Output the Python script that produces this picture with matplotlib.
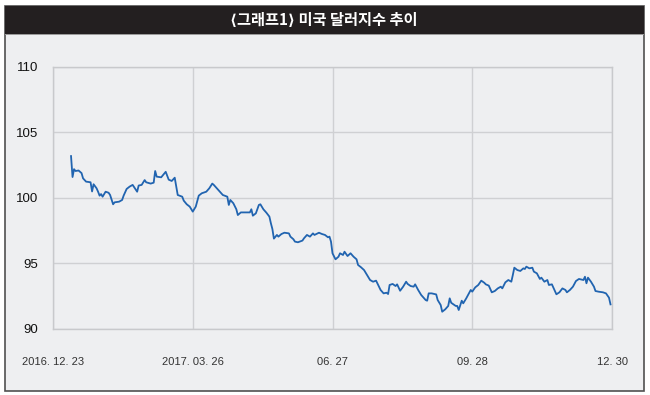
import numpy as np
import pandas as pd
import matplotlib
matplotlib.use("Agg")
import matplotlib.pyplot as plt
from matplotlib.patches import Rectangle

# days after 2016-12-23 and the dollar index
START_DATE = "2016-12-23"
day_offsets = [
    12, 13, 14, 15, 17, 18, 19, 20, 22, 25, 26, 27, 29, 30, 31, 32, 33, 35, 37, 38,
    40, 41, 44, 46, 47, 49, 51, 53, 56, 57, 59, 61, 62, 65, 67, 68, 69, 72, 75, 77,
    79, 81, 82, 83, 86, 87, 89, 91, 93, 95, 97, 99, 102, 104, 106, 107, 109, 111, 113, 116,
    117, 118, 120, 122, 123, 125, 128, 131, 132, 133, 135, 137, 138, 140, 142, 144, 145, 146, 147, 149,
    150, 152, 154, 157, 158, 160, 161, 163, 166, 167, 169, 171, 173, 174, 177, 179, 181, 183, 184, 185,
    186, 188, 190, 191, 193, 194, 196, 198, 200, 202, 203, 205, 207, 209, 211, 213, 215, 218, 220, 222,
    223, 224, 226, 228, 229, 231, 233, 235, 236, 238, 240, 241, 243, 245, 248, 249, 250, 252, 255, 256,
    258, 259, 261, 263, 264, 265, 268, 269, 270, 272, 273, 275, 278, 279, 281, 283, 285, 287, 288, 290,
    292, 294, 296, 298, 299, 301, 303, 305, 306, 307, 309, 311, 313, 314, 315, 317, 319, 320, 322, 324,
    325, 327, 329, 330, 332, 333, 335, 337, 339, 341, 342, 344, 346, 348, 350, 353, 354, 355, 356, 358,
    360, 361, 363, 366, 368, 370, 371,
]
dxy = [
    103.2, 101.6, 102.2, 102.06, 102.1, 102.0, 101.9, 101.5, 101.25, 101.2, 100.5, 101.05, 100.74, 100.48, 100.18, 100.3, 100.1, 100.48, 100.4, 100.23,
    99.52, 99.67, 99.72, 99.85, 100.18, 100.69, 100.87, 101.0, 100.48, 100.95, 101.0, 101.37, 101.2, 101.1, 101.17, 102.06, 101.63, 101.58, 102.0, 101.4,
    101.3, 101.55, 100.87, 100.23, 100.1, 99.8, 99.52, 99.34, 98.96, 99.34, 100.18, 100.36, 100.48, 100.74, 101.1, 101.0, 100.74, 100.48, 100.23, 100.1,
    99.47, 99.85, 99.6, 99.14, 98.7, 98.9, 98.9, 98.9, 99.14, 98.65, 98.83, 99.47, 99.52, 99.14, 98.88, 98.58, 98.07, 97.63, 96.9, 97.18,
    97.05, 97.25, 97.35, 97.3, 97.05, 96.85, 96.67, 96.62, 96.75, 96.92, 97.18, 97.05, 97.3, 97.18, 97.35, 97.25, 97.18, 97.0, 97.05, 96.67,
    95.78, 95.32, 95.52, 95.78, 95.65, 95.9, 95.57, 95.78, 95.52, 95.32, 94.89, 94.71, 94.5, 94.12, 93.74, 93.61, 93.69, 92.98, 92.72, 92.77,
    92.67, 93.36, 93.44, 93.28, 93.41, 92.92, 93.23, 93.61, 93.44, 93.28, 93.23, 93.41, 92.98, 92.6, 92.21, 92.16, 92.72, 92.72, 92.64, 92.21,
    91.83, 91.32, 91.5, 91.76, 92.34, 92.0, 91.76, 91.76, 91.45, 92.16, 91.96, 92.34, 92.98, 92.85, 93.18, 93.36, 93.69, 93.53, 93.41, 93.31,
    92.8, 92.9, 93.1, 93.23, 93.1, 93.56, 93.74, 93.61, 94.12, 94.68, 94.5, 94.43, 94.63, 94.58, 94.76, 94.63, 94.68, 94.38, 94.25, 93.82,
    93.92, 93.61, 93.74, 93.36, 93.41, 93.16, 92.65, 92.8, 93.1, 92.98, 92.8, 92.98, 93.23, 93.66, 93.82, 93.74, 93.99, 93.49, 93.92, 93.61,
    93.23, 92.9, 92.85, 92.8, 92.72, 92.39, 91.88,
]

tick_dates = ["2016-12-23", "2017-03-26", "2017-06-27", "2017-09-28", "2017-12-30"]
tick_labels = ["2016. 12. 23", "2017. 03. 26", "06. 27", "09. 28", "12. 30"]
y_ticks = [90, 95, 100, 105, 110]
title = "\u27e8그래프1\u27e9 미국 달러지수 추이"

W, H = 650, 395


def fx(px):
    return px / W


def fy(py):
    return 1 - py / H


def main():
    fig = plt.figure(figsize=(6.5, 3.95), dpi=100, facecolor="white")

    # panel background + frame, then black title bar (drawn under the axes)
    fig.patches.append(Rectangle((fx(5), fy(391)), fx(639), (391 - 6) / H,
                                 transform=fig.transFigure, facecolor="#eeeff1",
                                 edgecolor="#505050", linewidth=1.2, zorder=-3))
    fig.patches.append(Rectangle((fx(5), fy(34.5)), fx(639), 1.5 / H,
                                 transform=fig.transFigure, facecolor="#9a9a9a",
                                 edgecolor="none", zorder=-2))
    fig.patches.append(Rectangle((fx(5), fy(33.5)), fx(639), 27.5 / H,
                                 transform=fig.transFigure, facecolor="#231f20",
                                 edgecolor="none", zorder=-1))
    fig.text(fx(324), fy(20), title, color="white", fontsize=11, fontweight="bold",
             family=["Noto Sans CJK KR", "DejaVu Sans"], ha="center", va="center")

    ax = fig.add_axes([fx(53), 66 / H, 559 / W, 262 / H])
    ax.set_facecolor("none")

    dates = pd.Timestamp(START_DATE) + pd.to_timedelta(np.array(day_offsets), unit="D")
    ax.plot(dates, dxy, color="#2164b0", linewidth=1.3, zorder=3)

    ticks = pd.to_datetime(tick_dates)
    ax.set_xlim(ticks[0], ticks[-1])
    ax.set_ylim(90, 110)
    ax.set_xticks(ticks)
    ax.set_xticklabels(tick_labels, family="Liberation Sans", fontsize=8,
                       color="#333333")
    ax.set_yticks(y_ticks)
    ax.set_yticklabels([str(v) for v in y_ticks], family="Liberation Sans",
                       fontsize=9.5, color="#111111")
    # pads are in points: 20pt ~ 28px, 10.5pt ~ 15px
    ax.tick_params(axis="x", length=0, pad=20)
    ax.tick_params(axis="y", length=0, pad=10.5)

    ax.grid(True, color="#cfd0d3", linewidth=1.0)
    ax.set_axisbelow(True)
    for side in ax.spines:
        ax.spines[side].set_color("#c8c9cc")
        ax.spines[side].set_linewidth(1.0)

    fig.savefig("out.png", dpi=100)


if __name__ == "__main__":
    main()
